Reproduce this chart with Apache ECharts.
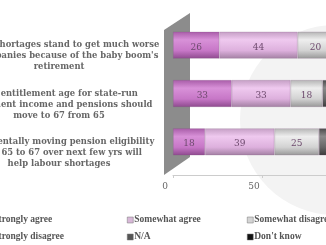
<!DOCTYPE html>
<html><head><meta charset="utf-8">
<script src="https://cdn.jsdelivr.net/npm/echarts@6/dist/echarts.min.js"></script>
<style>html,body{margin:0;padding:0;background:#fff}#c{width:326px;height:245px}</style>
</head><body><div id="c"></div>
<script>
const categories = [
  "Labour shortages stand to get much worse\nfor companies because of the baby boom's\nretirement",
  "The entitlement age for state-run\nretirement income and pensions should\nmove to 67 from 65",
  "Incrementally moving pension eligibility\nfrom 65 to 67 over next few yrs will\nhelp labour shortages"
];
const seriesNames = ["Strongly agree","Somewhat agree","Somewhat disagree","Strongly disagree","N/A","Don't know"];
const stronglyAgree = [26, 33, 18];
const somewhatAgree = [44, 33, 39];
const somewhatDisagree = [20, 18, 25];
const stronglyDisagree = [6, 11, 12];
const notApplicable = [1, 1, 1];
const dontKnow = [3, 4, 5];
const xTicks = [0, 50, 100];

const values = [stronglyAgree, somewhatAgree, somewhatDisagree, stronglyDisagree, notApplicable, dontKnow];
function cyl(a,b,c,d){return {type:'linear',x:0,y:0,x2:0,y2:1,colorStops:[{offset:0,color:a},{offset:0.3,color:b},{offset:0.7,color:c},{offset:1,color:d}]};}
const fills = [
  cyl('#a85ca8','#d891d8','#c777c7','#8e4a8e'),
  cyl('#c49ec4','#efc9ef','#ddb0dd','#a27fa2'),
  cyl('#b4b4b4','#eeeeee','#d2d2d2','#979797'),
  cyl('#4a4a4a','#8a8a8a','#666666','#3a3a3a'),
  cyl('#3a3a3a','#6e6e6e','#555555','#2a2a2a'),
  cyl('#0a0a0a','#3a3a3a','#1a1a1a','#000000')
];
const legendIcons = ['#c070c0','#d8b8d8','#d4d4d4','#777777','#555555','#111111'];

const series = seriesNames.map((n,i)=>({
  name:n, type:'bar', stack:'s', barWidth:27,
  data: values[i],
  itemStyle:{color:fills[i], borderColor:'rgba(120,80,120,0.35)', borderWidth:0.6},
  label:{show:i<3, position:'inside', fontFamily:'DejaVu Serif', fontSize:9, color:'#6e4a6e', offset:[0,2]},
  z:3
}));

const legendPos = [[-14,215],[127,215],[247,215],[-14,232],[127,232],[247,232]];
const legends = seriesNames.map((n,i)=>({
  data:[n], left:legendPos[i][0], top:legendPos[i][1], padding:0,
  itemWidth:6, itemHeight:6, icon:'rect', itemGap:0,
  itemStyle:{color:legendIcons[i], borderColor:'#777', borderWidth:0.5},
  textStyle:{fontFamily:'Liberation Serif', fontWeight:'bold', fontSize:9.5, color:'#555', padding:[0,0,0,-4]}
}));

const chart = echarts.init(document.getElementById('c'));
chart.setOption({
  animation:false,
  backgroundColor:'#ffffff',
  color: legendIcons,
  graphic:[
    {type:'circle', shape:{cx:335,cy:120,r:95}, style:{fill:'#f3f3f3'}, z:-10, silent:true},
    {type:'polygon', shape:{points:[[164,30],[190,13],[190,157],[164,175]]}, style:{fill:'#8c8c8c'}, z:0, silent:true}
  ],
  grid:{left:173, right:-25, top:21, bottom:79, outerBoundsMode:'none', containLabel:false},
  xAxis:{type:'value', min:0, max:100, interval:50, offset:9,
    axisLine:{show:true, lineStyle:{color:'#cccccc'}},
    axisTick:{show:true, length:3, lineStyle:{color:'#cccccc'}},
    splitLine:{show:false},
    axisLabel:{fontFamily:'DejaVu Serif', fontSize:9, color:'#666', margin:7, padding:[0,16,0,0],
      formatter:v=>xTicks.includes(v)?String(v):''}
  },
  yAxis:{type:'category', inverse:true, data:categories,
    axisLine:{show:false}, axisTick:{show:false},
    axisLabel:{interval:0, hideOverlap:false, align:'center', margin:114, fontFamily:'DejaVu Serif', fontWeight:'bold', fontSize:8.4, lineHeight:11, color:'#666',
      formatter:v=>'\n\n'+v}
  },
  legend: legends,
  series: series
});
</script></body></html>
